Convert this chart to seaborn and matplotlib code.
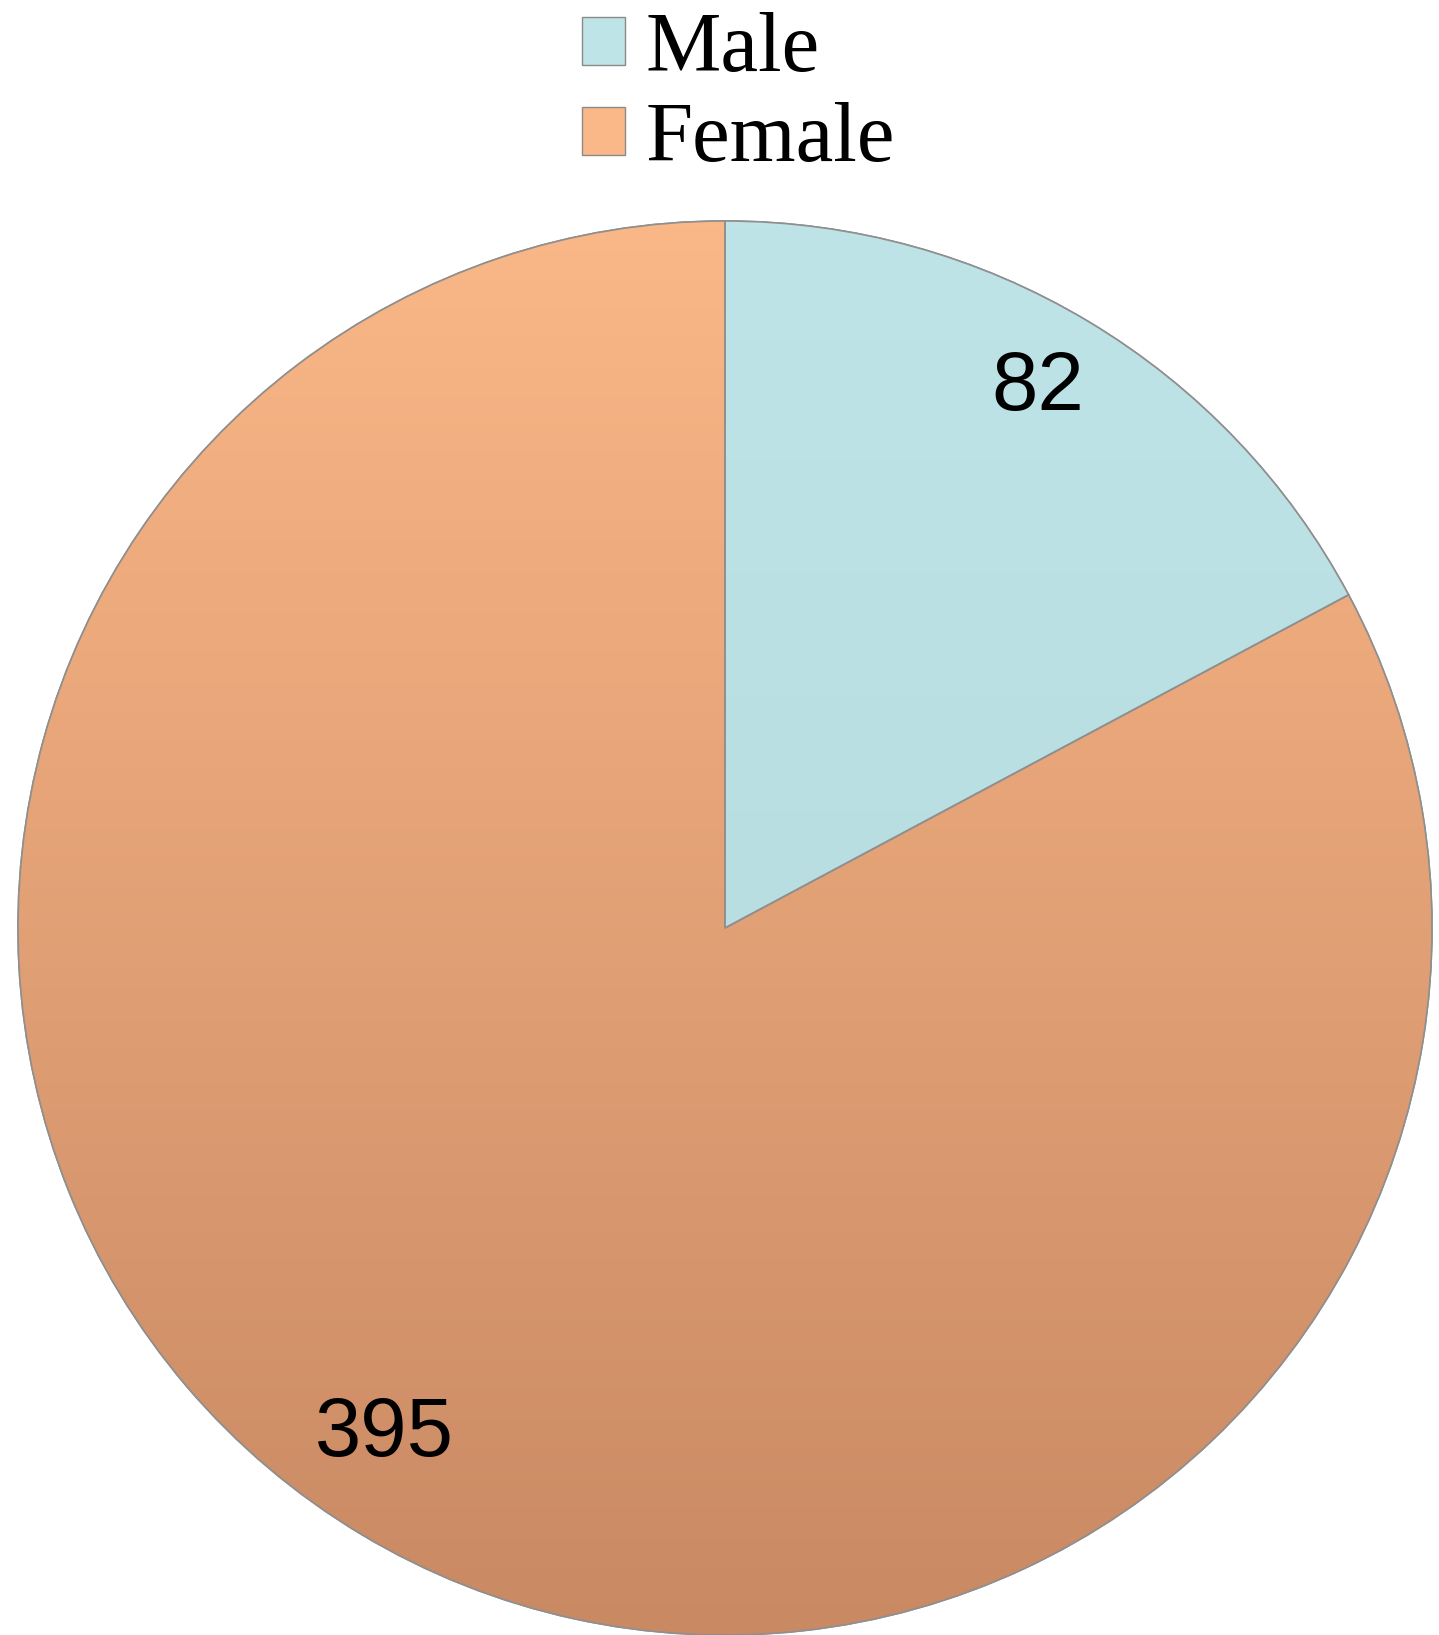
import numpy as np
import matplotlib
matplotlib.use("Agg")
import matplotlib.pyplot as plt
import seaborn as sns
from matplotlib.colors import LinearSegmentedColormap
from matplotlib.patches import Wedge, Patch

sns.set_theme(style="white")
plt.rcParams['font.family'] = ['Liberation Sans', 'DejaVu Sans']

categories = ["Male", "Female"]
values = [82, 395]
top_colors = ["#BFE4E7", "#FAB787"]
bottom_colors = ["#B3D8DB", "#C98963"]

W, H = 1439, 1635
fig = plt.figure(figsize=(W / 100, H / 100), dpi=100)
ax = fig.add_axes([0, 0, 1, 1])
R = 707.0
cx, cy = 725.0, 928.0

wedges, _ = ax.pie(values, startangle=90, counterclock=False, radius=1.0,
                   colors=top_colors,
                   wedgeprops=dict(edgecolor="#8f8f8f", linewidth=1.2))

grad = np.linspace(1, 0, 256).reshape(-1, 1)
for w, c0, c1 in zip(wedges, top_colors, bottom_colors):
    cmap = LinearSegmentedColormap.from_list("g", [c1, c0])
    im = ax.imshow(grad, cmap=cmap, extent=[-1, 1, -1, 1], origin='upper',
                   aspect='auto', zorder=w.get_zorder() + 0.1, vmin=0, vmax=1)
    im.set_clip_path(w)
    edge = Wedge(w.center, w.r, w.theta1, w.theta2, facecolor='none',
                 edgecolor="#8f8f8f", linewidth=1.2, zorder=w.get_zorder() + 0.2)
    ax.add_patch(edge)

def px(x, y):
    return (x - cx) / R, (cy - y) / R

ax.text(*px(1038, 388), str(values[0]), ha='center', va='center',
        fontsize=60, color='black', zorder=10)
ax.text(*px(384, 1434), str(values[1]), ha='center', va='center',
        fontsize=60, color='black', zorder=10)

ax.set_xlim(-cx / R, (W - cx) / R)
ax.set_ylim(-(H - cy) / R, cy / R)
ax.set_aspect('auto')
ax.axis('off')

handles = [Patch(facecolor=c, edgecolor="#8a8a8a", linewidth=1.0) for c in top_colors]
leg = fig.legend(handles, categories, loc='upper left',
                 bbox_to_anchor=(540 / W, 1 + 30 / H), frameon=False,
                 prop={'family': 'Liberation Serif', 'size': 61},
                 handlelength=0.5, handleheight=0.5, handletextpad=0.25,
                 labelspacing=0.15, borderpad=0.0, labelcolor='black')

fig.savefig("out.png", dpi=100)
